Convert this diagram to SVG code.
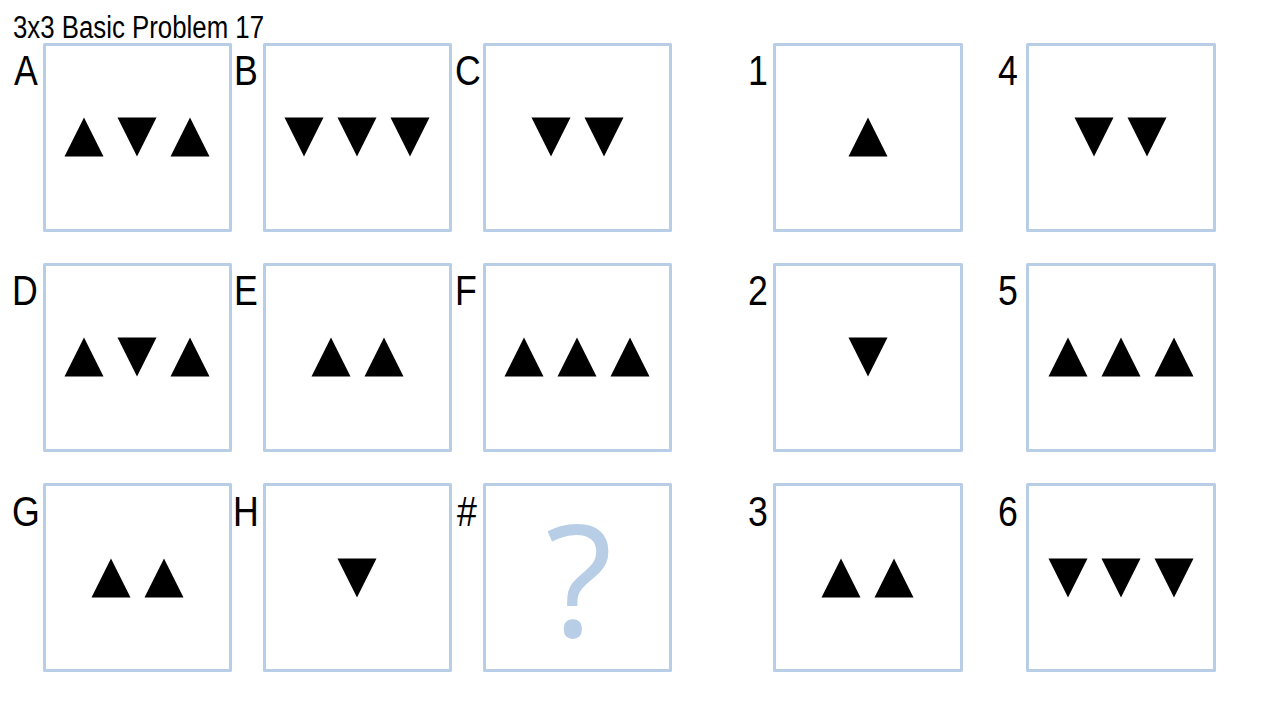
<svg xmlns="http://www.w3.org/2000/svg" xmlns:xlink="http://www.w3.org/1999/xlink" width="1280" height="720" viewBox="0 0 1280 720">
<style>
.box{fill:#fff;stroke:#B8CDE6;stroke-width:3;stroke-linejoin:round}
.lbl{font-family:"Liberation Sans",Arial,sans-serif;font-size:42px;fill:#000}
.title{font-family:"Liberation Sans",Arial,sans-serif;font-size:31px;fill:#000}
.q{font-family:"Open Sans","DejaVu Sans",sans-serif;font-size:156px;fill:#B8CDE6}
.tri{fill:#000}
</style>
<defs>
<path id="up" class="tri" d="M0,-19.5 L19.5,19.5 L-19.5,19.5 Z"/>
<path id="dn" class="tri" d="M-19.5,-19.5 L19.5,-19.5 L0,19.5 Z"/>
</defs>
<rect width="1280" height="720" fill="#fff"/>
<text class="title" x="13" y="38" textLength="251" lengthAdjust="spacingAndGlyphs">3x3 Basic Problem 17</text>

<g id="A">
<rect class="box" x="44.5" y="44.5" width="186" height="186"/>
<text class="lbl" transform="translate(14,85) scale(0.85,1)">A</text>
<use xlink:href="#up" x="84" y="137"/><use xlink:href="#dn" x="137" y="137"/><use xlink:href="#up" x="190" y="137"/>
</g>
<g id="B">
<rect class="box" x="264.5" y="44.5" width="186" height="186"/>
<text class="lbl" transform="translate(234,85) scale(0.85,1)">B</text>
<use xlink:href="#dn" x="304" y="137"/><use xlink:href="#dn" x="357" y="137"/><use xlink:href="#dn" x="410" y="137"/>
</g>
<g id="C">
<rect class="box" x="484.5" y="44.5" width="186" height="186"/>
<text class="lbl" transform="translate(455,85) scale(0.85,1)">C</text>
<use xlink:href="#dn" x="551" y="137"/><use xlink:href="#dn" x="604" y="137"/>
</g>
<g id="D">
<rect class="box" x="44.5" y="264.5" width="186" height="186"/>
<text class="lbl" transform="translate(12,305) scale(0.85,1)">D</text>
<use xlink:href="#up" x="84" y="357"/><use xlink:href="#dn" x="137" y="357"/><use xlink:href="#up" x="190" y="357"/>
</g>
<g id="E">
<rect class="box" x="264.5" y="264.5" width="186" height="186"/>
<text class="lbl" transform="translate(234,305) scale(0.85,1)">E</text>
<use xlink:href="#up" x="331" y="357"/><use xlink:href="#up" x="384" y="357"/>
</g>
<g id="F">
<rect class="box" x="484.5" y="264.5" width="186" height="186"/>
<text class="lbl" transform="translate(455,305) scale(0.85,1)">F</text>
<use xlink:href="#up" x="524" y="357"/><use xlink:href="#up" x="577" y="357"/><use xlink:href="#up" x="630" y="357"/>
</g>
<g id="G">
<rect class="box" x="44.5" y="484.5" width="186" height="186"/>
<text class="lbl" transform="translate(12,526) scale(0.85,1)">G</text>
<use xlink:href="#up" x="111" y="578"/><use xlink:href="#up" x="164" y="578"/>
</g>
<g id="H">
<rect class="box" x="264.5" y="484.5" width="186" height="186"/>
<text class="lbl" transform="translate(233,526) scale(0.85,1)">H</text>
<use xlink:href="#dn" x="357" y="578"/>
</g>
<g id="Q">
<rect class="box" x="484.5" y="484.5" width="186" height="186"/>
<text class="lbl" transform="translate(457,526) scale(0.85,1)">#</text>
<text class="q" x="579" y="637" text-anchor="middle">?</text>
</g>

<g id="opt1">
<rect class="box" x="774.5" y="44.5" width="187" height="186"/>
<text class="lbl" transform="translate(748,85) scale(0.85,1)">1</text>
<use xlink:href="#up" x="868" y="137"/>
</g>
<g id="opt2">
<rect class="box" x="774.5" y="264.5" width="187" height="186"/>
<text class="lbl" transform="translate(748,305) scale(0.85,1)">2</text>
<use xlink:href="#dn" x="868" y="357"/>
</g>
<g id="opt3">
<rect class="box" x="774.5" y="484.5" width="187" height="186"/>
<text class="lbl" transform="translate(748,526) scale(0.85,1)">3</text>
<use xlink:href="#up" x="841" y="578"/><use xlink:href="#up" x="894" y="578"/>
</g>
<g id="opt4">
<rect class="box" x="1027.5" y="44.5" width="187" height="186"/>
<text class="lbl" transform="translate(998,85) scale(0.85,1)">4</text>
<use xlink:href="#dn" x="1094" y="137"/><use xlink:href="#dn" x="1147" y="137"/>
</g>
<g id="opt5">
<rect class="box" x="1027.5" y="264.5" width="187" height="186"/>
<text class="lbl" transform="translate(998,305) scale(0.85,1)">5</text>
<use xlink:href="#up" x="1068" y="357"/><use xlink:href="#up" x="1121" y="357"/><use xlink:href="#up" x="1174" y="357"/>
</g>
<g id="opt6">
<rect class="box" x="1027.5" y="484.5" width="187" height="186"/>
<text class="lbl" transform="translate(998,526) scale(0.85,1)">6</text>
<use xlink:href="#dn" x="1068" y="578"/><use xlink:href="#dn" x="1121" y="578"/><use xlink:href="#dn" x="1174" y="578"/>
</g>
<g id="connectors"/>
</svg>
